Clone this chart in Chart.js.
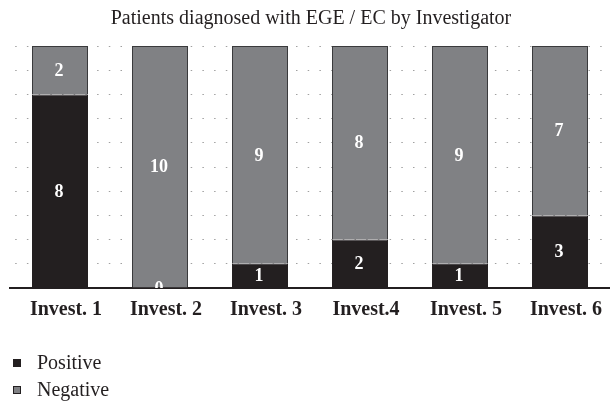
<!DOCTYPE html>
<html>
<head>
<meta charset="utf-8">
<script src="https://cdn.jsdelivr.net/npm/chart.js@4/dist/chart.umd.min.js"></script>
<style>
  html, body { margin: 0; padding: 0; background: #fff; }
  #wrap { position: relative; width: 610px; height: 402px; overflow: hidden; }
  #legend { position: absolute; left: 13px; top: 349px; font-family: "Liberation Serif", "DejaVu Serif", serif; font-size: 20px; color: #231f20; }
  .item { height: 27px; display: flex; align-items: center; }
  .box { width: 6px; height: 6px; margin-right: 16px; border: 1px solid #231f20; }
</style>
</head>
<body>
<div id="wrap">
  <canvas id="c" width="610" height="402"></canvas>
  <div id="legend"></div>
</div>
<script>
const title = "Patients diagnosed with EGE / EC by Investigator";
const categories = ["Invest. 1", "Invest. 2", "Invest. 3", "Invest.4", "Invest. 5", "Invest. 6"];
const positive = [8, 0, 1, 2, 1, 3];
const negative = [2, 10, 9, 8, 9, 7];
const seriesNames = ["Positive", "Negative"];
const colors = ["#231f20", "#808184"];

const serif = '"Liberation Serif", "DejaVu Serif", serif';

const labelPlugin = {
  id: 'segLabels',
  afterDatasetsDraw(chart) {
    const ctx = chart.ctx;
    const area = chart.chartArea;
    ctx.save();
    ctx.beginPath();
    ctx.rect(area.left, area.top, area.right - area.left, area.bottom - area.top);
    ctx.clip();
    ctx.fillStyle = '#ffffff';
    ctx.font = 'bold 18px ' + serif;
    ctx.textAlign = 'center';
    ctx.textBaseline = 'middle';
    chart.data.datasets.forEach((ds, di) => {
      const meta = chart.getDatasetMeta(di);
      meta.data.forEach((bar, i) => {
        const v = ds.data[i];
        const p = bar.getProps(['x', 'y', 'base'], true);
        const cy = (p.y + p.base) / 2;
        ctx.fillText(String(v), p.x - 1, cy + 1);
      });
    });
    ctx.restore();
  }
};

new Chart(document.getElementById('c'), {
  type: 'bar',
  data: {
    labels: categories,
    datasets: [
      { label: seriesNames[0], data: positive, backgroundColor: colors[0], borderColor: '#231f20', borderWidth: 1 },
      { label: seriesNames[1], data: negative, backgroundColor: colors[1], borderColor: '#3a3a3c', borderWidth: 1 }
    ]
  },
  options: {
    responsive: false,
    animation: false,
    devicePixelRatio: 1,
    layout: { padding: { left: 10, right: -2, top: 0, bottom: 78 } },
    datasets: { bar: { barPercentage: 0.56, categoryPercentage: 1.0 } },
    plugins: {
      legend: { display: false },
      tooltip: { enabled: false },
      title: {
        display: true,
        text: title,
        color: '#231f20',
        font: { family: serif, size: 20, weight: 'normal' },
        padding: { top: 7, bottom: 15 }
      }
    },
    scales: {
      x: {
        stacked: true,
        grid: { display: false },
        border: { display: true, color: '#231f20', width: 2 },
        ticks: { color: '#231f20', font: { family: serif, size: 20, weight: 'bold' }, padding: 2, labelOffset: 6 }
      },
      y: {
        stacked: true,
        min: 0, max: 10,
        ticks: { display: false, stepSize: 1 },
        border: { display: false, dash: [1.5, 10.2], dashOffset: 6.5 },
        grid: { color: '#a0a0a0', lineWidth: 1, drawTicks: false }
      }
    }
  },
  plugins: [labelPlugin]
});

const lg = document.getElementById('legend');
seriesNames.forEach((n, i) => {
  const d = document.createElement('div');
  d.className = 'item';
  const b = document.createElement('span');
  b.className = 'box';
  b.style.background = colors[i];
  const t = document.createElement('span');
  t.textContent = n;
  d.appendChild(b); d.appendChild(t);
  lg.appendChild(d);
});
</script>
</body>
</html>
